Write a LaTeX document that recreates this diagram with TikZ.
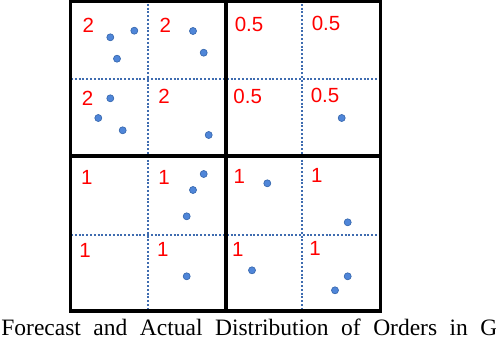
\documentclass[tikz,border=0pt]{standalone}
\usepackage{fontspec}
\setmainfont{Liberation Serif}
\newfontfamily\numfont{Liberation Sans}
\definecolor{guideblue}{HTML}{3F6CB0}
\definecolor{dotblue}{HTML}{4F86D9}
\definecolor{dotedge}{HTML}{3A6AB0}
\definecolor{fcastred}{HTML}{FF0000}
\newcommand\capspacing{\spaceskip=12.5pt\relax}

\begin{document}
\begin{tikzpicture}[x=1pt, y=-1pt,
  quad/.style={draw=black, line width=3.1pt},
  guide/.style={draw=guideblue, line width=2pt, dash pattern=on 2pt off 1.8pt},
  fcast/.style={text=fcastred, font=\numfont\fontsize{20.5}{21}\selectfont, inner sep=0pt},
  order/.style={circle, fill=dotblue, draw=dotedge, line width=0.7pt,
                inner sep=0pt, minimum size=7pt},
  caption/.style={font=\fontsize{23.5}{26}\selectfont\capspacing,
                  inner sep=0pt, anchor=base west},
]
\useasboundingbox (0,0) rectangle (496,338);
\clip (0,0) rectangle (496,338);

% ── Sub-grid (dotted) ───────────────────────────────────────────────────
\draw[guide] (148,0) -- (148,313);
\draw[guide] (302,0) -- (302,313);
\draw[guide] (71,79) -- (380,79);
\draw[guide] (71,235) -- (380,235);

% ── Quadrants ───────────────────────────────────────────────────────────
\draw[quad] (70.8,1.6) rectangle (226,156);
\draw[quad] (226,1.6) rectangle (380.5,156);
\draw[quad] (70.8,156) rectangle (226,311);
\draw[quad] (226,156) rectangle (380.5,311);

% ── Forecast values ─────────────────────────────────────────────────────
\node[fcast] (f11) at (88.3,25)   {2};
\node[fcast] (f12) at (165.3,25)  {2};
\node[fcast] (f13) at (249,24)    {0.5};
\node[fcast] (f14) at (326,23.3)  {0.5};
\node[fcast] (f21) at (87.7,98)   {2};
\node[fcast] (f22) at (164,96.7)  {2};
\node[fcast] (f23) at (247.7,96)  {0.5};
\node[fcast] (f24) at (325,95.7)  {0.5};
\node[fcast] (f31) at (86.7,177.7) {1};
\node[fcast] (f32) at (164,177.7)  {1};
\node[fcast] (f33) at (239.3,176.7) {1};
\node[fcast] (f34) at (316.7,175.7) {1};
\node[fcast] (f41) at (85,250.7)   {1};
\node[fcast] (f42) at (162.7,249.3) {1};
\node[fcast] (f43) at (237.7,249)   {1};
\node[fcast] (f44) at (315,248.3)   {1};

% ── Actual orders ───────────────────────────────────────────────────────
\node[order] (o11a) at (110.3,37.3) {};
\node[order] (o11b) at (134.3,30.7) {};
\node[order] (o11c) at (117,58.7)   {};
\node[order] (o12a) at (193,31)     {};
\node[order] (o12b) at (203.7,52.7) {};
\node[order] (o21a) at (110.3,98.3) {};
\node[order] (o21b) at (98.3,118)   {};
\node[order] (o21c) at (122.7,130.3) {};
\node[order] (o22a) at (208.7,135)  {};
\node[order] (o24a) at (341.7,118)  {};
\node[order] (o32a) at (203.7,174)  {};
\node[order] (o32b) at (193,190)    {};
\node[order] (o32c) at (186.7,216.3) {};
\node[order] (o33a) at (267.3,183.3) {};
\node[order] (o34a) at (347.7,222.3) {};
\node[order] (o42a) at (186.7,276.3) {};
\node[order] (o43a) at (252,270.3)  {};
\node[order] (o44a) at (347.7,276.3) {};
\node[order] (o44b) at (335,290.3)  {};

% ── Caption ─────────────────────────────────────────────────────────────
\node[caption] (cap) at (1.2,335.5) {Forecast and Actual Distribution of Orders in Gr};

\end{tikzpicture}
\end{document}
